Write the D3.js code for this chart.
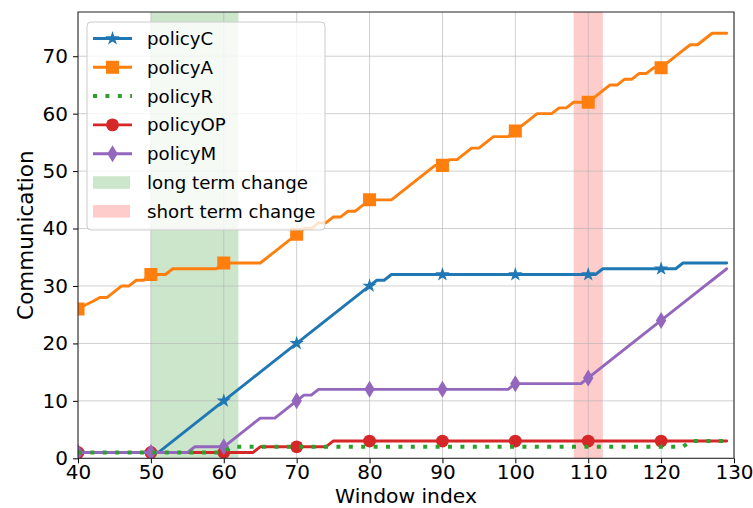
<!DOCTYPE html>
<html>
<head>
<meta charset="utf-8">
<script src="https://cdn.jsdelivr.net/npm/d3@7"></script>
<style>
  html, body { margin: 0; padding: 0; background: #fff; }
  svg { display: block; font-family: "DejaVu Sans", sans-serif; }
</style>
</head>
<body>
<svg id="chart" width="753" height="508"></svg>
<script>
// Window indices 40..129
const windows = d3.range(40, 130);

const policyC = [
  1, 1, 1, 1, 1, 1, 1, 1, 1, 1,
  1, 1, 2, 3, 4, 5, 6, 7, 8, 9,
  10, 11, 12, 13, 14, 15, 16, 17, 18, 19,
  20, 21, 22, 23, 24, 25, 26, 27, 28, 29,
  30, 31, 31, 32, 32, 32, 32, 32, 32, 32,
  32, 32, 32, 32, 32, 32, 32, 32, 32, 32,
  32, 32, 32, 32, 32, 32, 32, 32, 32, 32,
  32, 32, 33, 33, 33, 33, 33, 33, 33, 33,
  33, 33, 33, 34, 34, 34, 34, 34, 34, 34
];

const policyA = [
  26, 26.7, 27.3, 28, 28, 29, 30, 30, 31, 31,
  32, 32, 32, 33, 33, 33, 33, 33, 33, 33,
  34, 34, 34, 34, 34, 34, 35, 36, 37, 38,
  39, 40, 40, 41, 41, 42, 42, 43, 43, 44,
  45, 45, 45, 45, 46, 47, 48, 49, 50, 51,
  51, 52, 52, 53, 54, 54, 55, 56, 56, 56,
  57, 58, 59, 60, 60, 60, 61, 61, 62, 62,
  62, 63, 64, 65, 65, 66, 66, 67, 67, 68,
  68, 69, 70, 71, 72, 72, 73, 74, 74, 74
];

const policyR = [
  1, 1, 1, 1, 1, 1, 1, 1, 1, 1,
  1, 1, 1, 1, 1, 1, 1, 1, 1, 1,
  1, 2, 2, 2, 2, 2, 2, 2, 2, 2,
  2, 2, 2, 2, 2, 2, 2, 2, 2, 2,
  2, 2, 2, 2, 2, 2, 2, 2, 2, 2,
  2, 2, 2, 2, 2, 2, 2, 2, 2, 2,
  2, 2, 2, 2, 2, 2, 2, 2, 2, 2,
  2, 2, 2, 2, 2, 2, 2, 2, 2, 2,
  2, 2, 2, 2, 3, 3, 3, 3, 3, 3
];

const policyOP = [
  1, 1, 1, 1, 1, 1, 1, 1, 1, 1,
  1, 1, 1, 1, 1, 1, 1, 1, 1, 1,
  1, 1, 1, 1, 1, 2, 2, 2, 2, 2,
  2, 2, 2, 2, 2, 3, 3, 3, 3, 3,
  3, 3, 3, 3, 3, 3, 3, 3, 3, 3,
  3, 3, 3, 3, 3, 3, 3, 3, 3, 3,
  3, 3, 3, 3, 3, 3, 3, 3, 3, 3,
  3, 3, 3, 3, 3, 3, 3, 3, 3, 3,
  3, 3, 3, 3, 3, 3, 3, 3, 3, 3
];

const policyM = [
  1, 1, 1, 1, 1, 1, 1, 1, 1, 1,
  1, 1, 1, 1, 1, 1, 2, 2, 2, 2,
  2, 3, 4, 5, 6, 7, 7, 7, 8, 9,
  10, 11, 11, 12, 12, 12, 12, 12, 12, 12,
  12, 12, 12, 12, 12, 12, 12, 12, 12, 12,
  12, 12, 12, 12, 12, 12, 12, 12, 12, 12,
  13, 13, 13, 13, 13, 13, 13, 13, 13, 13,
  14, 15, 16, 17, 18, 19, 20, 21, 22, 23,
  24, 25, 26, 27, 28, 29, 30, 31, 32, 33
];

const xTicks = [40, 50, 60, 70, 80, 90, 100, 110, 120, 130];
const yTicks = [0, 10, 20, 30, 40, 50, 60, 70];

// Shaded change periods
const longTermSpan = [50, 62];
const shortTermSpan = [108, 112];

const series = [
  { name: "policyC", values: policyC, color: "#1f77b4", marker: "star" },
  { name: "policyA", values: policyA, color: "#ff7f0e", marker: "square" },
  { name: "policyR", values: policyR, color: "#2ca02c", marker: "none", dotted: true },
  { name: "policyOP", values: policyOP, color: "#d62728", marker: "circle" },
  { name: "policyM", values: policyM, color: "#9467bd", marker: "thin_diamond" }
];

const W = 753, H = 508;
const margin = { left: 78, right: 19, top: 12, bottom: 49.7 };
const svg = d3.select("#chart");

const x = d3.scaleLinear().domain([40, 130]).range([margin.left, W - margin.right]);
const y = d3.scaleLinear().domain([0, 77.7]).range([H - margin.bottom, margin.top]);

const plot = svg.append("g");

// clip for the plotting area
svg.append("defs").append("clipPath").attr("id", "clip")
  .append("rect")
  .attr("x", margin.left).attr("y", margin.top)
  .attr("width", W - margin.left - margin.right)
  .attr("height", H - margin.top - margin.bottom);

// spans
plot.append("rect")
  .attr("x", x(longTermSpan[0])).attr("width", x(longTermSpan[1]) - x(longTermSpan[0]))
  .attr("y", margin.top).attr("height", H - margin.top - margin.bottom)
  .attr("fill", "green").attr("fill-opacity", 0.2);
plot.append("rect")
  .attr("x", x(shortTermSpan[0])).attr("width", x(shortTermSpan[1]) - x(shortTermSpan[0]))
  .attr("y", margin.top).attr("height", H - margin.top - margin.bottom)
  .attr("fill", "red").attr("fill-opacity", 0.2);

// grid
const grid = plot.append("g").attr("stroke", "#b0b0b0").attr("stroke-opacity", 0.6).attr("stroke-width", 1);
xTicks.forEach(t => grid.append("line")
  .attr("x1", x(t)).attr("x2", x(t)).attr("y1", margin.top).attr("y2", H - margin.bottom));
yTicks.forEach(t => grid.append("line")
  .attr("y1", y(t)).attr("y2", y(t)).attr("x1", margin.left).attr("x2", W - margin.right));

// marker shapes
function markerPath(kind) {
  if (kind === "star") return d3.symbol(d3.symbolStar, 64)();
  if (kind === "square") return d3.symbol(d3.symbolSquare, 170)();
  if (kind === "circle") return d3.symbol(d3.symbolCircle, 130)();
  if (kind === "thin_diamond") return "M0,-8.5L5.2,0L0,8.5L-5.2,0Z";
  return null;
}

const line = d3.line().x((d, i) => x(windows[i])).y(d => y(d));
const lines = plot.append("g").attr("clip-path", "url(#clip)");

function drawSeries(s) {
  const g = lines.append("g");
  g.append("path")
    .attr("d", line(s.values))
    .attr("fill", "none")
    .attr("stroke", s.color)
    .attr("stroke-width", s.dotted ? 4 : 2.9)
    .attr("stroke-linejoin", "round")
    .attr("stroke-dasharray", s.dotted ? "4,8.4" : null)
    .attr("stroke-linecap", s.dotted ? "butt" : "round");
  const mp = markerPath(s.marker);
  if (mp) {
    const idx = windows.map((w, i) => i).filter(i => windows[i] % 10 === 0);
    g.selectAll("path.m").data(idx).join("path")
      .attr("class", "m")
      .attr("d", mp)
      .attr("transform", i => `translate(${x(windows[i])},${y(s.values[i])})`)
      .attr("fill", s.color);
  }
}
// dotted policyR goes on top of the solid lines
["policyC", "policyA", "policyOP", "policyM", "policyR"]
  .forEach(n => drawSeries(series.find(s => s.name === n)));

// axes
const xAxis = d3.axisBottom(x).tickValues(xTicks).tickSize(5).tickPadding(2);
const yAxis = d3.axisLeft(y).tickValues(yTicks).tickSize(5).tickPadding(5);

const gx = svg.append("g").attr("transform", `translate(0,${H - margin.bottom})`).call(xAxis);
const gy = svg.append("g").attr("transform", `translate(${margin.left},0)`).call(yAxis);
[gx, gy].forEach(g => {
  g.select(".domain").remove();
  g.selectAll(".tick line").attr("stroke", "#000").attr("stroke-width", 1);
  g.selectAll(".tick text").attr("font-size", 20).attr("fill", "#000")
    .attr("font-family", "DejaVu Sans, sans-serif");
});

// frame
svg.append("rect")
  .attr("x", margin.left).attr("y", margin.top)
  .attr("width", W - margin.left - margin.right)
  .attr("height", H - margin.top - margin.bottom)
  .attr("fill", "none").attr("stroke", "#222").attr("stroke-width", 1);

// axis labels
svg.append("text")
  .attr("x", (margin.left + W - margin.right) / 2).attr("y", 503)
  .attr("text-anchor", "middle").attr("font-size", 20.3)
  .text("Window index");
svg.append("text")
  .attr("transform", `translate(33,${(margin.top + H - margin.bottom) / 2}) rotate(-90)`)
  .attr("text-anchor", "middle").attr("font-size", 21.5)
  .text("Communication");

// legend
const legend = svg.append("g");
legend.append("rect")
  .attr("x", 87).attr("y", 22).attr("width", 238).attr("height", 208).attr("rx", 4)
  .attr("fill", "#fff").attr("fill-opacity", 0.8)
  .attr("stroke", "#ccc").attr("stroke-width", 1);

const legendItems = series.map(s => ({ type: "line", ...s })).concat([
  { type: "patch", name: "long term change", color: "green" },
  { type: "patch", name: "short term change", color: "red" }
]);
legendItems.forEach((it, i) => {
  const cy = 38.5 + i * 28.8;
  const g = legend.append("g");
  if (it.type === "line") {
    g.append("line").attr("x1", 93).attr("x2", 132).attr("y1", cy).attr("y2", cy)
      .attr("stroke", it.color).attr("stroke-width", it.dotted ? 4 : 2.9)
      .attr("stroke-dasharray", it.dotted ? "4,8.4" : null);
    const mp = markerPath(it.marker);
    if (mp) g.append("path").attr("d", mp).attr("transform", `translate(112.5,${cy})`).attr("fill", it.color);
  } else {
    g.append("rect").attr("x", 93).attr("y", cy - 6.3).attr("width", 37).attr("height", 12.6)
      .attr("fill", it.color).attr("fill-opacity", 0.2);
  }
  g.append("text").attr("x", 147).attr("y", cy).attr("dy", "0.36em")
    .attr("font-size", 18.2).attr("fill", "#000").text(it.name);
});
</script>
</body>
</html>
